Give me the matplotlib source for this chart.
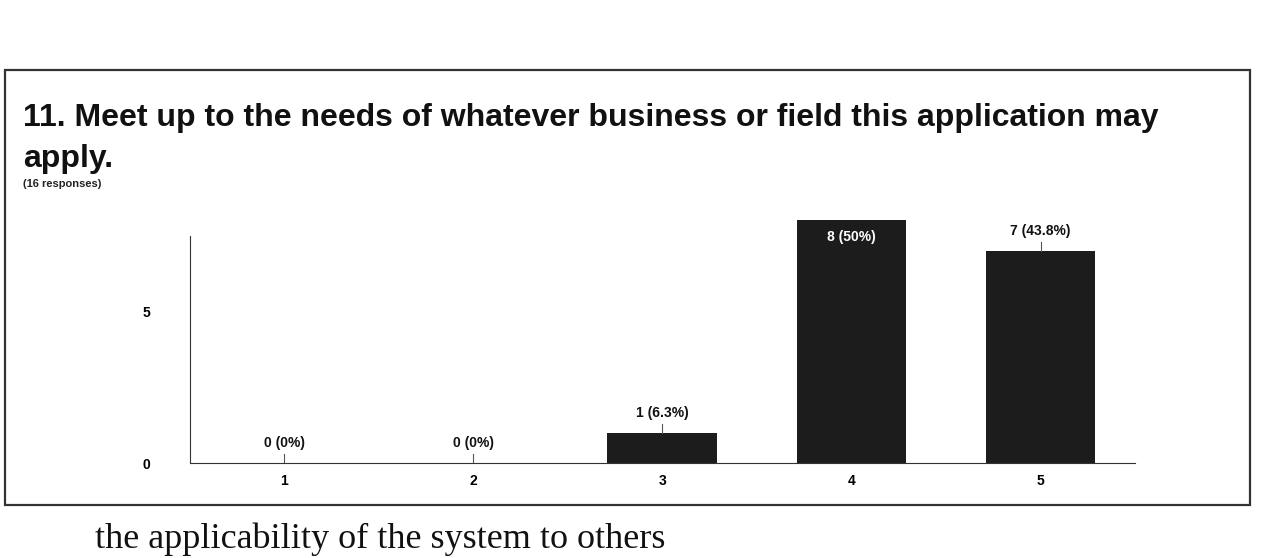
import matplotlib.pyplot as plt
from matplotlib.patches import Rectangle

plt.rcParams['font.family'] = ['Liberation Sans', 'DejaVu Sans']

categories = ["1", "2", "3", "4", "5"]
counts = [0, 0, 1, 8, 7]
labels = ["0 (0%)", "0 (0%)", "1 (6.3%)", "8 (50%)", "7 (43.8%)"]
total = 16

fig = plt.figure(figsize=(12.64, 5.58), dpi=100)
fig.patch.set_facecolor("white")

# card border
fig.patches.append(Rectangle((0.004, 0.095), 0.985, 0.78, transform=fig.transFigure,
                             fill=False, edgecolor="#333333", linewidth=1.6))

fig.text(0.018, 0.775, "11. Meet up to the needs of whatever business or field this application may",
         fontsize=23, fontweight="bold", color="#111111")
fig.text(0.018, 0.70, "apply.", fontsize=23, fontweight="bold", color="#111111")
fig.text(0.018, 0.665, f"({total} responses)", fontsize=8, fontweight="bold", color="#222222")

ax = fig.add_axes([0.15, 0.17, 0.748, 0.435])
x = range(len(categories))
ax.bar(x, counts, width=0.58, color="#1c1c1c")
ax.set_xlim(-0.5, 4.5)
ax.set_ylim(0, 8)
ax.set_yticks([0, 5])
ax.set_xticks(list(x))
ax.set_xticklabels(categories)
ax.tick_params(length=0, labelsize=10, pad=8)
for lab in ax.get_xticklabels() + ax.get_yticklabels():
    lab.set_fontweight("bold")
ax.tick_params(axis="y", pad=28)
for s in ["top", "right"]:
    ax.spines[s].set_visible(False)
ax.spines["left"].set_bounds(0, 7.5)
ax.spines["left"].set_color("#333333")
ax.spines["bottom"].set_color("#333333")

for i, (c, lab) in enumerate(zip(counts, labels)):
    if c >= 8:
        ax.text(i, c - 0.55, lab, ha="center", va="center", color="white",
                fontsize=10, fontweight="bold")
    else:
        ax.plot([i, i], [c, c + 0.3], color="#555555", linewidth=0.8)
        ax.text(i, c + 0.42, lab, ha="center", va="bottom", color="#111111",
                fontsize=10, fontweight="bold")

fig.text(0.075, 0.018, "the applicability of the system to others", fontsize=26,
         family=["Liberation Serif", "DejaVu Serif"], color="#111111")

fig.savefig("out.png", dpi=100)
